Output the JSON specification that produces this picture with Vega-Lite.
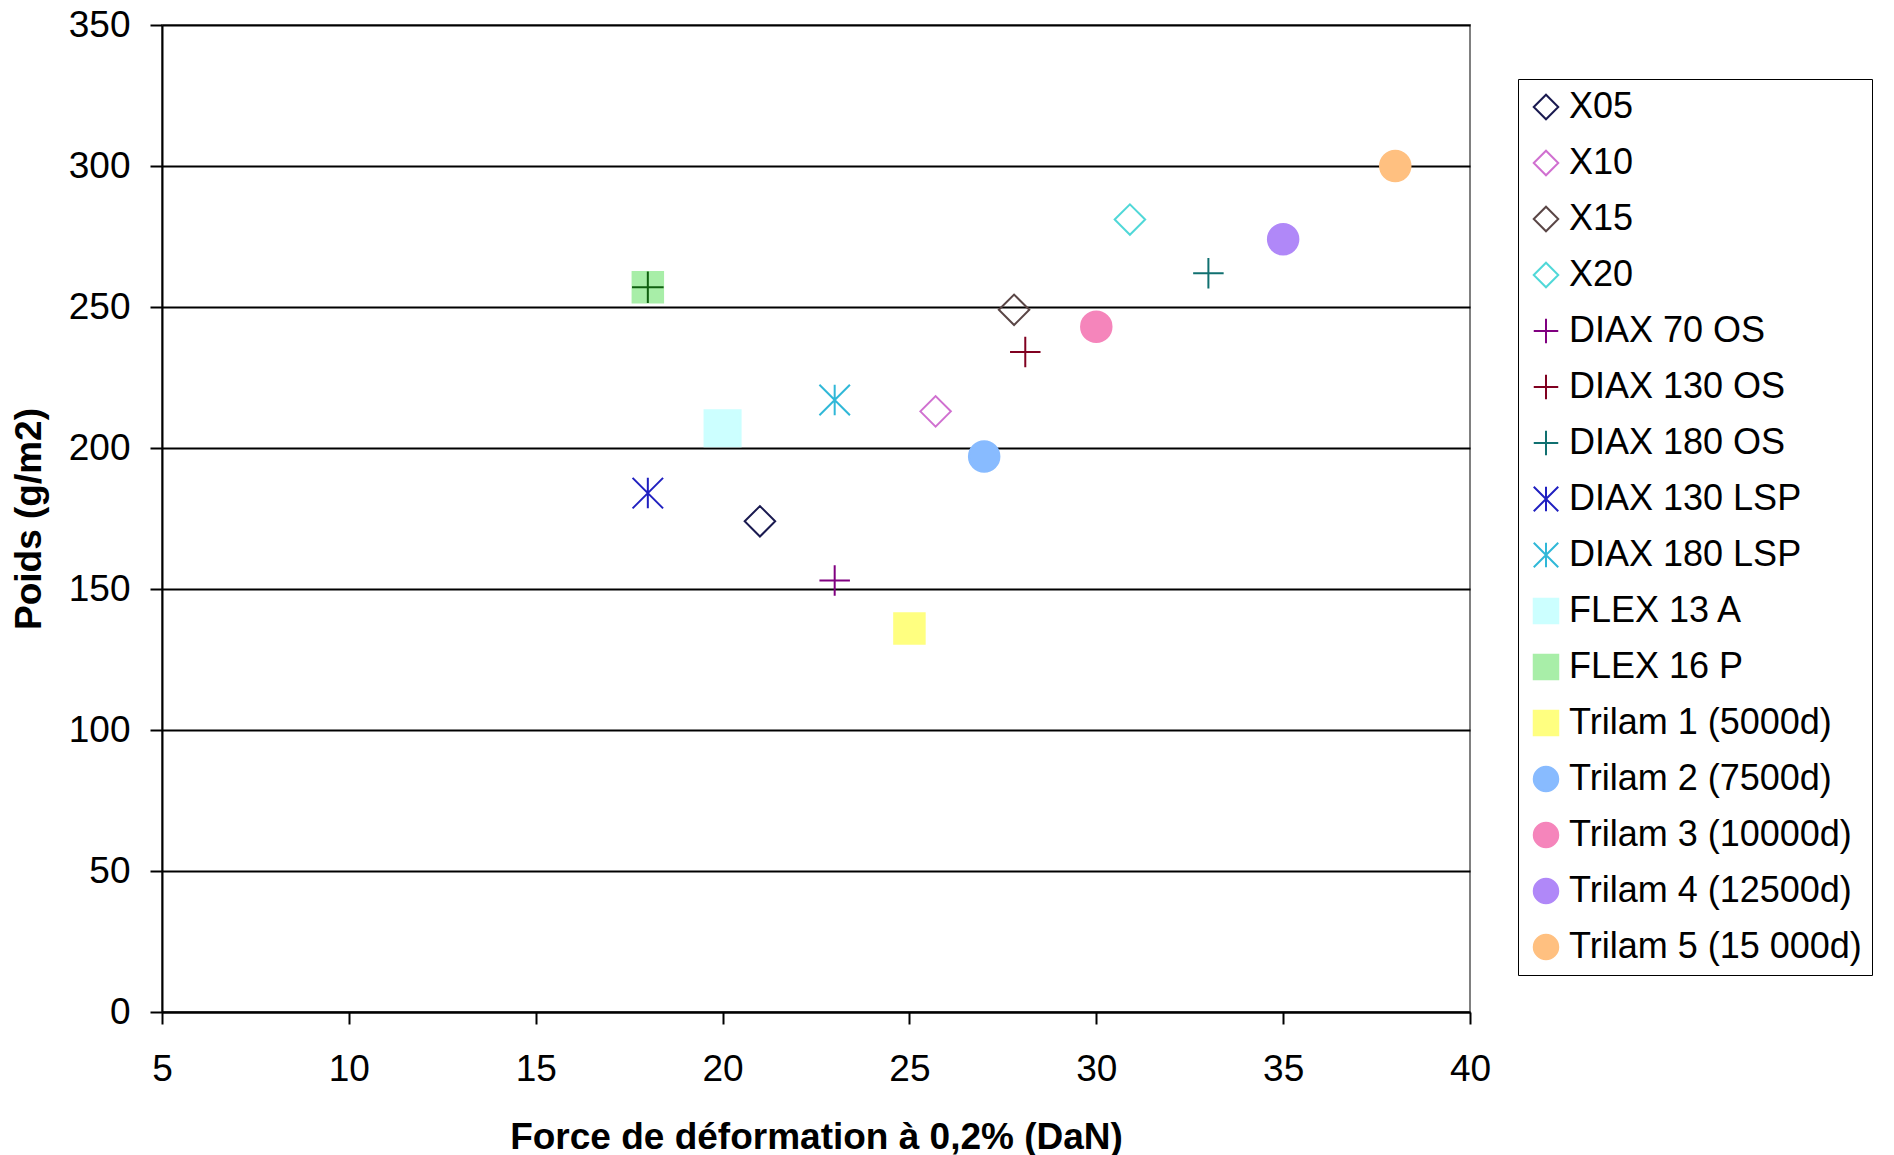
{
  "$schema": "https://vega.github.io/schema/vega-lite/v6.json",
  "width": 1308,
  "height": 987,
  "autosize": {"type": "none"},
  "padding": {"left": 162, "top": 25, "right": 424, "bottom": 143},
  "background": "white",
  "config": {
    "font": "Liberation Sans",
    "view": {"stroke": "#808080", "strokeWidth": 2},
    "axis": {
      "domainColor": "black", "domainWidth": 2,
      "tickColor": "black", "tickWidth": 2, "tickSize": 12,
      "labelFontSize": 37, "labelColor": "black", "labelFlush": false,
      "titleFontSize": 37, "titleFontWeight": "bold", "titleColor": "black"
    },
    "legend": {
      "orient": "none", "legendX": 1356, "legendY": 54,
      "labelFontSize": 36, "labelColor": "black", "labelLimit": 400,
      "symbolSize": 600, "symbolStrokeWidth": 2, "rowPadding": 20,
      "labelOffset": 5, "padding": 10, "strokeColor": "black"
    }
  },
  "data": {
    "values": [
      {"serie": "X05", "force": 21, "poids": 174},
      {"serie": "X10", "force": 25.7, "poids": 213},
      {"serie": "X15", "force": 27.8, "poids": 249},
      {"serie": "X20", "force": 30.9, "poids": 281},
      {"serie": "DIAX 70 OS", "force": 23, "poids": 153},
      {"serie": "DIAX 130 OS", "force": 28.1, "poids": 234},
      {"serie": "DIAX 180 OS", "force": 33, "poids": 262},
      {"serie": "DIAX 130 LSP", "force": 18, "poids": 184},
      {"serie": "DIAX 180 LSP", "force": 23, "poids": 217},
      {"serie": "FLEX 13 A", "force": 20, "poids": 207},
      {"serie": "FLEX 16 P", "force": 18, "poids": 257},
      {"serie": "Trilam 1 (5000d)", "force": 25, "poids": 136},
      {"serie": "Trilam 2 (7500d)", "force": 27, "poids": 197},
      {"serie": "Trilam 3 (10000d)", "force": 30, "poids": 243},
      {"serie": "Trilam 4 (12500d)", "force": 35, "poids": 274},
      {"serie": "Trilam 5 (15 000d)", "force": 38, "poids": 300}
    ]
  },
  "encoding": {
    "x": {
      "field": "force", "type": "quantitative",
      "scale": {"domain": [5, 40], "nice": false, "zero": false},
      "axis": {
        "values": [5, 10, 15, 20, 25, 30, 35, 40], "grid": false,
        "title": "Force de déformation à 0,2% (DaN)",
        "labelPadding": 27, "titlePadding": 32
      }
    },
    "y": {
      "field": "poids", "type": "quantitative",
      "scale": {"domain": [0, 350], "nice": false},
      "axis": {
        "values": [0, 50, 100, 150, 200, 250, 300, 350], "grid": true,
        "gridColor": "black", "gridWidth": 2,
        "title": "Poids (g/m2)", "labelPadding": 20, "titlePadding": 20
      }
    }
  },
  "layer": [
    {
      "mark": {"type": "point", "opacity": 1, "fillOpacity": 1, "strokeOpacity": 1, "strokeWidth": 2, "size": 930},
      "encoding": {
        "shape": {
          "field": "serie", "type": "nominal", "title": null,
          "scale": {
            "domain": ["X05", "X10", "X15", "X20", "DIAX 70 OS", "DIAX 130 OS", "DIAX 180 OS", "DIAX 130 LSP", "DIAX 180 LSP", "FLEX 13 A", "FLEX 16 P", "Trilam 1 (5000d)", "Trilam 2 (7500d)", "Trilam 3 (10000d)", "Trilam 4 (12500d)", "Trilam 5 (15 000d)"],
            "range": ["diamond", "diamond", "diamond", "diamond",
              "M-1,0L1,0M0,-1L0,1", "M-1,0L1,0M0,-1L0,1", "M-1,0L1,0M0,-1L0,1",
              "M0,-1L0,1M-1,-1L1,1M-1,1L1,-1", "M0,-1L0,1M-1,-1L1,1M-1,1L1,-1",
              "square", "square",
              "square", "circle", "circle", "circle", "circle"]
          }
        },
        "stroke": {
          "field": "serie", "type": "nominal", "title": null,
          "scale": {
            "domain": ["X05", "X10", "X15", "X20", "DIAX 70 OS", "DIAX 130 OS", "DIAX 180 OS", "DIAX 130 LSP", "DIAX 180 LSP", "FLEX 13 A", "FLEX 16 P", "Trilam 1 (5000d)", "Trilam 2 (7500d)", "Trilam 3 (10000d)", "Trilam 4 (12500d)", "Trilam 5 (15 000d)"],
            "range": ["#1a1a50", "#d070d0", "#5a4646", "#50d8d8", "#800080", "#800020", "#107070", "#2020c0", "#30b8d8", "#ccffff", "#a8eea8", "#ffff80", "#88bbff", "#f585bb", "#b088f8", "#ffc080"]
          }
        },
        "fill": {
          "field": "serie", "type": "nominal", "title": null,
          "scale": {
            "domain": ["X05", "X10", "X15", "X20", "DIAX 70 OS", "DIAX 130 OS", "DIAX 180 OS", "DIAX 130 LSP", "DIAX 180 LSP", "FLEX 13 A", "FLEX 16 P", "Trilam 1 (5000d)", "Trilam 2 (7500d)", "Trilam 3 (10000d)", "Trilam 4 (12500d)", "Trilam 5 (15 000d)"],
            "range": ["transparent", "transparent", "transparent", "transparent", "transparent", "transparent", "transparent", "transparent", "transparent", "#ccffff", "#a8eea8", "#ffff80", "#88bbff", "#f585bb", "#b088f8", "#ffc080"]
          }
        }
      }
    },
    {
      "transform": [{"filter": "datum.serie === 'FLEX 13 A'"}],
      "mark": {"type": "point", "shape": "square", "size": 1300, "fill": "#ccffff", "stroke": "#ccffff", "strokeWidth": 2, "opacity": 1, "filled": true},
      "encoding": {}
    },
    {
      "transform": [{"filter": "datum.serie === 'FLEX 16 P'"}],
      "mark": {"type": "point", "shape": "M-1,0L1,0M0,-1L0,1", "size": 1000, "stroke": "#106010", "strokeWidth": 2, "opacity": 1, "filled": false},
      "encoding": {}
    }
  ]
}
